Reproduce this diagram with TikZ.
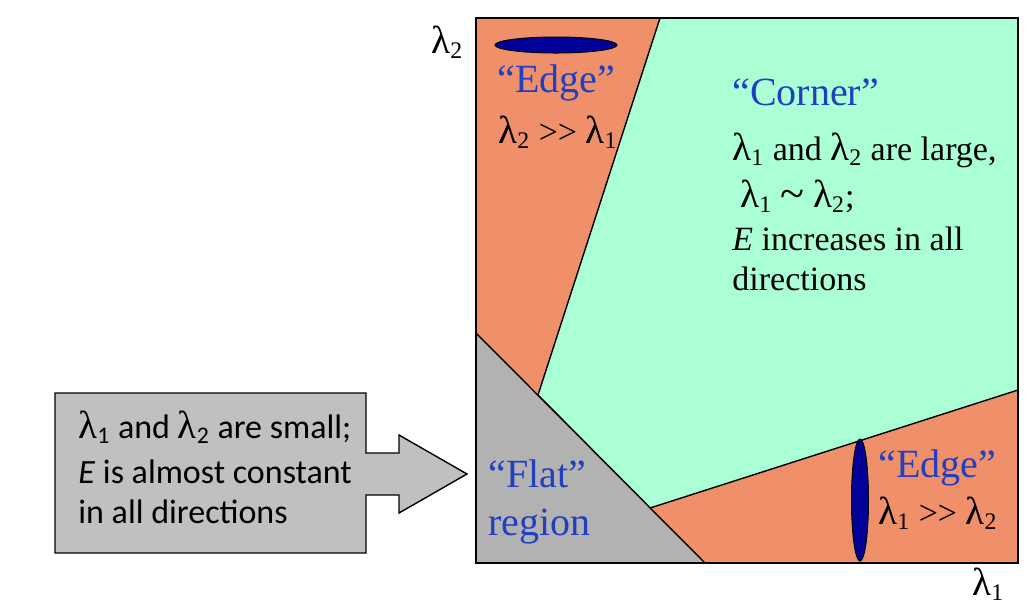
\documentclass[tikz,border=0pt]{standalone}
\usepackage{fontspec}
\usepackage{graphicx}
\setmainfont{Liberation Serif}
\newfontfamily\calfont{Carlito}
\definecolor{edgeorange}{RGB}{240,144,106}
\definecolor{cornergreen}{RGB}{170,255,212}
\definecolor{flatgray}{RGB}{178,178,178}
\definecolor{boxgray}{RGB}{192,192,192}
\definecolor{labelblue}{RGB}{32,64,192}
\definecolor{blobblue}{RGB}{0,0,153}
\newcommand{\lam}[1]{{\rmfamily\scalebox{1.15}{λ}}\textsubscript{#1}}
\newcommand{\muchgt}{>\kern0pt>}
\newcommand{\about}{\raisebox{-0.1ex}{\scalebox{1.3}{\textasciitilde}}}

\begin{document}
\begin{tikzpicture}[x=0.5pt, y=-0.5pt,
    region/.style={draw=black, line width=0.7pt},
    serif/.style={anchor=base west, inner sep=0pt, font=\fontsize{17}{22}\selectfont},
    quote/.style={anchor=base west, inner sep=0pt, text=labelblue, font=\fontsize{20}{24}\selectfont},
    sans/.style={anchor=base west, inner sep=0pt, font=\calfont\fontsize{17}{21}\selectfont},
    blob/.style={fill=blobblue, draw=black, line width=0.5pt}]
  \fill[white] (0,0) rectangle (1030,607);
  \useasboundingbox (0,0) rectangle (1030,607);
  % the plane of eigenvalues
  \filldraw[region, fill=edgeorange] (476,18) rectangle (1018,563);
  \filldraw[region, fill=cornergreen] (660,18) -- (1018,18) -- (1018,390) -- (650,508) -- (538,395) -- cycle;
  \filldraw[region, fill=flatgray] (476,333) -- (705,563) -- (476,563) -- cycle;
  \draw[region] (476,18) rectangle (1018,563);
  \filldraw[blob] (556,45) ellipse [x radius=61, y radius=8];
  \filldraw[blob] (860,500) ellipse [x radius=8.5, y radius=61];
  % axes
  \node[serif] (ltwo) at (431,53) {\lam{2}};
  \node[serif] (lone) at (972,595) {\lam{1}};
  % edge, top
  \node[quote] (edgetop) at (497,92) {“Edge”};
  \node[serif] (edgetopr) at (498,143) {\lam{2} \muchgt{} \lam{1}};
  % corner
  \node[quote] (corner) at (732,105) {“Corner”};
  \node[serif] (cornera) at (732,160) {\lam{1} and \lam{2} are large,};
  \node[serif] (cornerb) at (740,207) {\lam{1} \about{} \lam{2};};
  \node[serif] (cornerc) at (732,250) {\textit{E} increases in all};
  \node[serif] (cornerd) at (732,290) {directions};
  % flat
  \node[quote] (flat) at (488,487) {“Flat”};
  \node[quote] (flatb) at (488,535) {region};
  % edge, right
  \node[quote] (edgeright) at (878,477) {“Edge”};
  \node[serif] (edgerightr) at (878,524) {\lam{1} \muchgt{} \lam{2}};
  % callout
  \filldraw[region, fill=boxgray] (55,393) -- (366,393) -- (366,453) -- (399,453) -- (399,435) -- (467,474)
    -- (399,513) -- (399,495) -- (366,495) -- (366,553) -- (55,553) -- cycle;
  \node[sans] (calla) at (78,438) {\lam{1} and \lam{2} are small;};
  \node[sans] (callb) at (78,483) {\textit{E} is almost constant};
  \node[sans] (callc) at (78,523) {in all directions};
\end{tikzpicture}
\end{document}
